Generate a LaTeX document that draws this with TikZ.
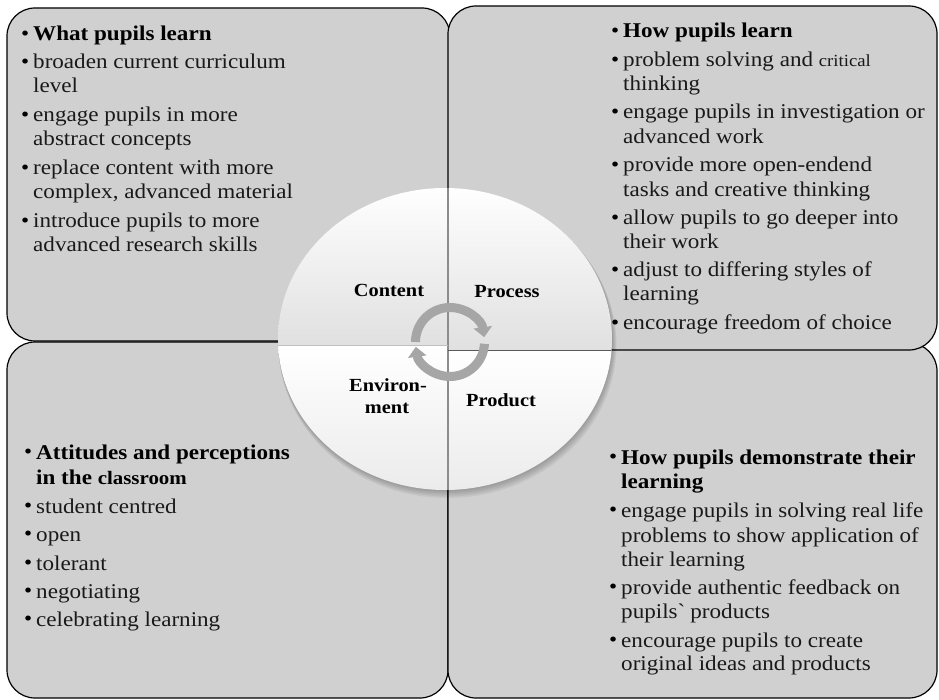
\documentclass[tikz,border=0pt]{standalone}
\usepackage{fontspec}
\setmainfont[FakeStretch=1.1]{Liberation Serif}
\usetikzlibrary{arrows.meta}
\definecolor{boxgray}{RGB}{208,208,208}
\definecolor{arrgray}{RGB}{166,166,166}
\tikzset{
  panel/.style={draw=black, line width=1.2pt, fill=boxgray, rounded corners=28pt},
  txt/.style={anchor=base west, inner sep=0pt, font=\fontsize{21}{24}\selectfont, text=black!90},
  ttl/.style={anchor=base west, inner sep=0pt, font=\fontsize{21}{24}\selectfont\bfseries, text=black},
  bul/.style={anchor=base west, inner sep=0pt, font=\fontsize{21}{24}\selectfont, yshift=0.5pt, text=black},
  lab/.style={anchor=base, inner sep=0pt, font=\fontsize{18.5}{22}\selectfont\bfseries, text=black},
  cyc/.style={draw=arrgray, line width=9pt, -{Triangle[length=10pt,width=18pt]}},
}
\newcommand\Itm[5]{\node[bul] (#1b) at ({#2-12},-#3) {\textbullet};\node[#4] (#1) at (#2,-#3) {#5};}
\newcommand\Cnt[5]{\node[#4] (#1) at (#2,-#3) {#5};}
\begin{document}
\begin{tikzpicture}[x=1pt,y=1pt]
\useasboundingbox (0,0) rectangle (939,-700);
% panels
\path[panel] (7,-342) rectangle (448,-698);
\path[panel] (448,-343) rectangle (937,-698);
\path[panel] (7,-8) rectangle (450,-341);
\path[panel] (448,-6) rectangle (937,-350);
% circle shadow
\foreach \i in {1,...,5}
  \fill[black, opacity=0.05] ({445+0.5*\i},{-339-1.2*\i}) ellipse [x radius={167+0.4*\i}, y radius={151+0.4*\i}];
% quadrants
\begin{scope}
  \clip (445,-339) ellipse [x radius=167, y radius=151];
  \shade[top color=white, bottom color=black!12] (270,-185) rectangle (448,-345);
  \shade[top color=white, bottom color=black!12] (448,-185) rectangle (620,-350);
  \shade[top color=white, bottom color=black!8] (270,-345) rectangle (448,-495);
  \shade[top color=white, bottom color=black!8] (448,-350) rectangle (620,-495);
  \draw[black!45, line width=1.5pt] (448,-180) -- (448,-495);
  \draw[black!25, line width=1pt] (270,-345) -- (448,-345);
  \draw[black!65, line width=1pt] (448,-350) -- (620,-350);
\end{scope}
% cycle arrows
\coordinate (cc) at (450,-342);
\draw[cyc] ([shift={(180:34.5)}]cc) arc[start angle=180, end angle=8, radius=34.5];
\draw[cyc] ([shift={(-3:34.5)}]cc) arc[start angle=-3, end angle=-172, radius=34.5];
% circle labels
\node[lab] (content) at (389,-297) {Content};
\node[lab] (process) at (507,-298) {Process};
\node[lab] (env1) at (388,-391) {Environ-};
\node[lab] (env2) at (387,-413) {ment};
\node[lab] (product) at (501,-406) {Product};
% top left
\Itm{a1}{33}{41}{ttl}{What pupils learn}
\Itm{a2}{33}{69}{txt}{broaden current curriculum}
\Cnt{a3}{33}{93}{txt}{level}
\Itm{a4}{33}{122}{txt}{engage pupils in more}
\Cnt{a5}{33}{146}{txt}{abstract concepts}
\Itm{a6}{33}{175}{txt}{replace content with more}
\Cnt{a7}{33}{199}{txt}{complex, advanced material}
\Itm{a8}{33}{228}{txt}{introduce pupils to more}
\Cnt{a9}{33}{252}{txt}{advanced research skills}
% top right
\Itm{b1}{623}{38}{ttl}{How pupils learn}
\Itm{b2}{623}{67}{txt}{problem solving and {\fontsize{17}{24}\selectfont critical}}
\Cnt{b3}{623}{91}{txt}{thinking}
\Itm{b4}{623}{119}{txt}{engage pupils in investigation or}
\Cnt{b5}{623}{144}{txt}{advanced work}
\Itm{b6}{623}{172}{txt}{provide more open-endend}
\Cnt{b7}{623}{197}{txt}{tasks and creative thinking}
\Itm{b8}{623}{225}{txt}{allow pupils to go deeper into}
\Cnt{b9}{623}{249}{txt}{their work}
\Itm{b10}{623}{277}{txt}{adjust to differing styles of}
\Cnt{b11}{623}{301}{txt}{learning}
\Itm{b12}{623}{330}{txt}{encourage freedom of choice}
% bottom left
\Itm{c1}{36}{459}{ttl}{Attitudes and perceptions}
\Cnt{c2}{36}{484}{ttl}{in the {\fontsize{19}{24}\selectfont classroom}}
\Itm{c3}{36}{513}{txt}{student centred}
\Itm{c4}{36}{541}{txt}{open}
\Itm{c5}{36}{570}{txt}{tolerant}
\Itm{c6}{36}{598}{txt}{negotiating}
\Itm{c7}{36}{626}{txt}{celebrating learning}
% bottom right
\Itm{d1}{621}{464}{ttl}{How pupils demonstrate their}
\Cnt{d2}{621}{488}{ttl}{learning}
\Itm{d3}{621}{517}{txt}{engage pupils in solving real life}
\Cnt{d4}{621}{542}{txt}{problems to show application of}
\Cnt{d5}{621}{566}{txt}{their learning}
\Itm{d6}{621}{594}{txt}{provide authentic feedback on}
\Cnt{d7}{621}{618}{txt}{pupils\textasciigrave{} products}
\Itm{d8}{621}{647}{txt}{encourage pupils to create}
\Cnt{d9}{621}{670}{txt}{original ideas and products}
\end{tikzpicture}
\end{document}
